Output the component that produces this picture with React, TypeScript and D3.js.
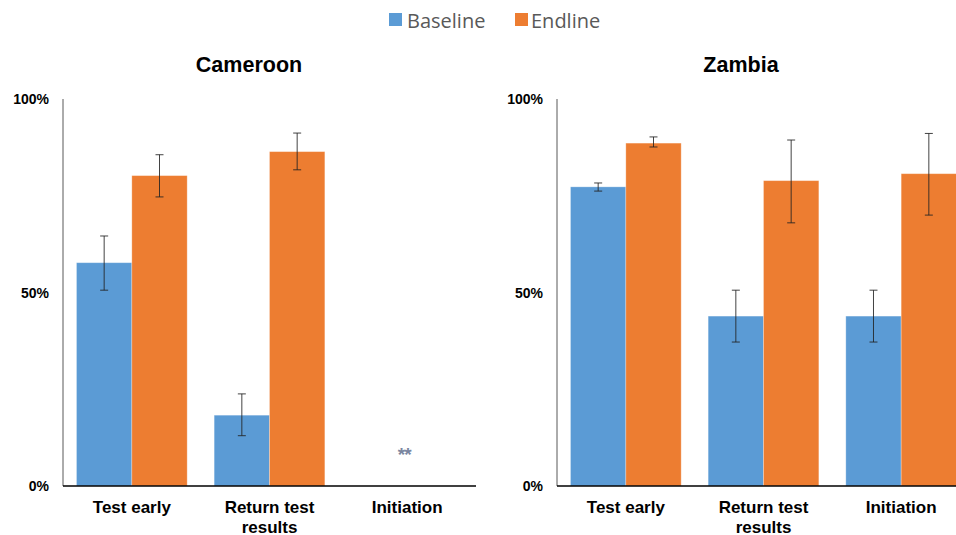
import React from "react";
import * as d3 from "d3";

const categories = ["Test early", "Return test results", "Initiation"];
const categoryLines = [["Test early"], ["Return test", "results"], ["Initiation"]];
const yTicks = [0, 50, 100];
const series = ["Baseline", "Endline"];
const colors = ["#5B9BD5", "#ED7D31"];

const cameroonBaseline = [57.7, 18.3, null];
const cameroonBaselineLo = [50.6, 13.0, null];
const cameroonBaselineHi = [64.6, 23.8, null];
const cameroonEndline = [80.2, 86.4, null];
const cameroonEndlineLo = [74.7, 81.7, null];
const cameroonEndlineHi = [85.6, 91.2, null];

const zambiaBaseline = [77.3, 43.9, 43.9];
const zambiaBaselineLo = [76.2, 37.2, 37.2];
const zambiaBaselineHi = [78.3, 50.6, 50.6];
const zambiaEndline = [88.6, 78.9, 80.7];
const zambiaEndlineLo = [87.6, 68.0, 70.0];
const zambiaEndlineHi = [90.2, 89.4, 91.1];

const panels = [
  {
    title: "Cameroon",
    x0: 63,
    x1: 476,
    vals: [cameroonBaseline, cameroonEndline],
    lo: [cameroonBaselineLo, cameroonEndlineLo],
    hi: [cameroonBaselineHi, cameroonEndlineHi],
    noData: [false, false, true],
  },
  {
    title: "Zambia",
    x0: 557,
    x1: 970,
    vals: [zambiaBaseline, zambiaEndline],
    lo: [zambiaBaselineLo, zambiaEndlineLo],
    hi: [zambiaBaselineHi, zambiaEndlineHi],
    noData: [false, false, false],
  },
];

const W = 956;
const H = 535;
const yTop = 99;
const yBottom = 486;
const font = "'Liberation Sans', Arial, Helvetica, sans-serif";

export default function App() {
  const y = d3.scaleLinear().domain([0, 100]).range([yBottom, yTop]);
  return (
    <svg
      width={W}
      height={H}
      style={{ position: "absolute", left: 0, top: 0, background: "#fff" }}
      fontFamily={font}
    >
      <rect x={0} y={0} width={W} height={H} fill="#fff" />
      {/* Legend */}
      <g>
        <rect x={389} y={13} width={13} height={13} fill={colors[0]} />
        <text x={407} y={20} dominantBaseline="central" fontSize={20} fill="#595959" fontFamily="'Open Sans', sans-serif">
          {series[0]}
        </text>
        <rect x={515} y={13} width={13} height={13} fill={colors[1]} />
        <text x={531} y={20} dominantBaseline="central" fontSize={20} fill="#595959" fontFamily="'Open Sans', sans-serif">
          {series[1]}
        </text>
      </g>
      {panels.map((p) => {
        const x = d3
          .scaleBand<string>()
          .domain(categories)
          .range([p.x0, p.x1])
          .paddingInner(0.196)
          .paddingOuter(0.098);
        const sub = d3
          .scaleBand<string>()
          .domain(series)
          .range([0, x.bandwidth()])
          .padding(0);
        return (
          <g key={p.title}>
            <text x={p.title === "Zambia" ? 741 : 249} y={65} textAnchor="middle" dominantBaseline="central" fontSize={21.5} fontWeight="bold" fill="#000">
              {p.title}
            </text>
            {yTicks.map((t) => (
              <text key={t} x={p.x0 - 14} y={y(t)} textAnchor="end" dominantBaseline="central" fontSize={14} fontWeight="bold" fill="#000">
                {t}%
              </text>
            ))}
            {categories.map((c, i) => (
              <g key={c}>
                {series.map((s, si) => {
                  const v = p.vals[si][i];
                  if (v == null) return null;
                  const bx = (x(c) as number) + (sub(s) as number);
                  const bw = sub.bandwidth();
                  const ex = bx + bw / 2;
                  const lo = p.lo[si][i] as number;
                  const hi = p.hi[si][i] as number;
                  return (
                    <g key={s}>
                      <rect x={bx} y={y(v)} width={bw} height={y(0) - y(v)} fill={colors[si]} stroke="#fff" strokeOpacity={0.35} strokeWidth={0.8} />
                      <g stroke="#222" strokeWidth={1} strokeOpacity={0.85}>
                        <line x1={ex} x2={ex} y1={y(hi)} y2={y(lo)} />
                        <line x1={ex - 4} x2={ex + 4} y1={y(hi)} y2={y(hi)} />
                        <line x1={ex - 4} x2={ex + 4} y1={y(lo)} y2={y(lo)} />
                      </g>
                    </g>
                  );
                })}
                {p.noData[i] && (
                  <text x={(x(c) as number) + x.bandwidth() / 2 - 3} y={y(8.2)} textAnchor="middle" dominantBaseline="central" fontSize={19} fontWeight="bold" fill="#7a86a0" letterSpacing={-1}>
                    **
                  </text>
                )}
                {categoryLines[i].map((ln, li) => (
                  <text key={li} x={(x(c) as number) + x.bandwidth() / 2} y={507 + li * 20} textAnchor="middle" dominantBaseline="central" fontSize={17} fontWeight="bold" fill="#000">
                    {ln}
                  </text>
                ))}
              </g>
            ))}
            <line x1={p.x0} x2={p.x0} y1={yTop} y2={yBottom} stroke="#595959" strokeWidth={1} />
            <line x1={p.x0} x2={p.x1} y1={yBottom} y2={yBottom} stroke="#000" strokeWidth={1.5} />
          </g>
        );
      })}
    </svg>
  );
}
